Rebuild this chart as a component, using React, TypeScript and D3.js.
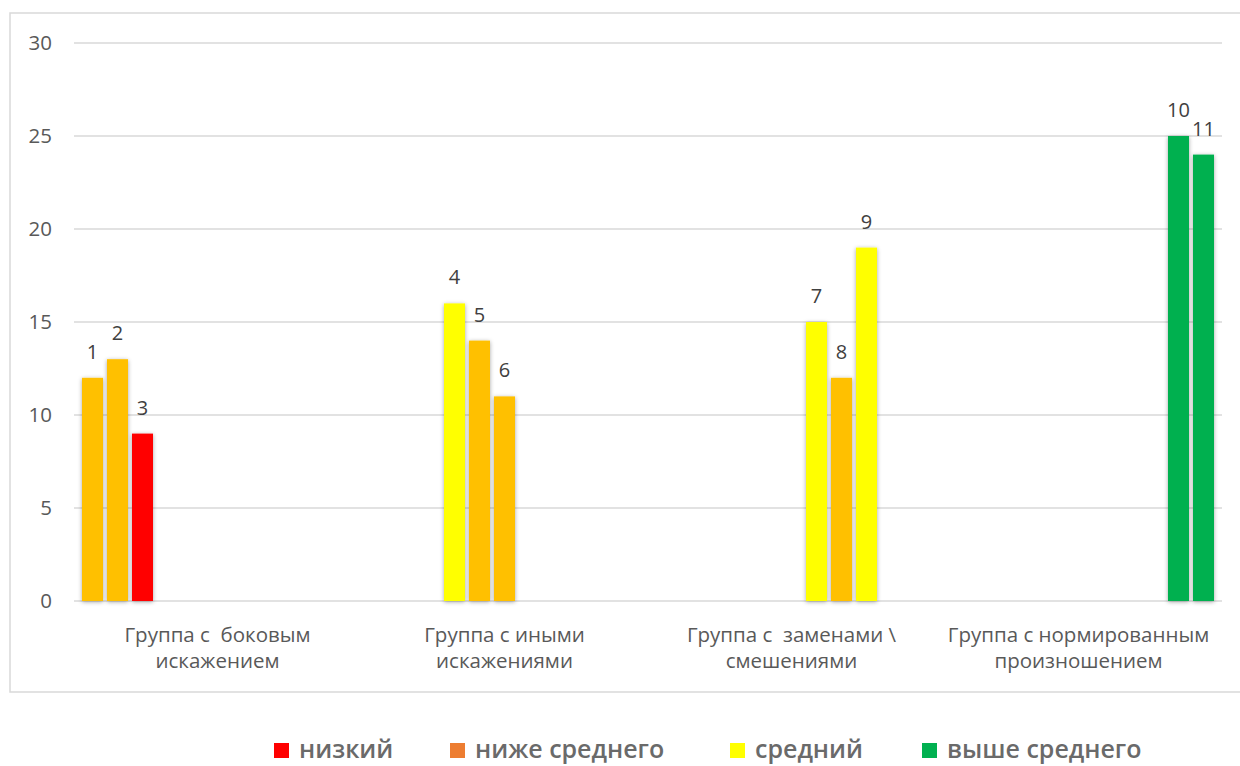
import React from "react";
import * as d3 from "d3";

const categories: string[][] = [
  ["Группа с  боковым", "искажением"],
  ["Группа с иными", "искажениями"],
  ["Группа с  заменами \\", "смешениями"],
  ["Группа с нормированным", "произношением"],
];
const seriesNames = ["1", "2", "3", "4", "5", "6", "7", "8", "9", "10", "11"];
const seriesValues = [12, 13, 9, 16, 14, 11, 15, 12, 19, 25, 24];
const seriesCategory = [0, 0, 0, 1, 1, 1, 2, 2, 2, 3, 3];
const barColors = ["#FFC000", "#FFC000", "#FF0000", "#FFFF00", "#FFC000", "#FFC000", "#FFFF00", "#FFC000", "#FFFF00", "#00B050", "#00B050"];
const legendLabels = ["низкий", "ниже среднего", "средний", "выше среднего"];
const legendColors = ["#FF0000", "#ED7D31", "#FFFF00", "#00B050"];
const legendX = [274, 450, 730, 922];
const yTicks = [0, 5, 10, 15, 20, 25, 30];

export default function App() {
  const W = 1240, H = 766;
  const left = 74, right = 1222, top = 43, bottom = 601;
  const y = d3.scaleLinear().domain([0, 30]).range([bottom, top]);
  const x0 = d3.scaleBand<number>().domain(d3.range(categories.length)).range([left, right]).padding(0);
  const x1 = d3.scaleBand<number>().domain(d3.range(seriesNames.length)).range([0, x0.bandwidth()]).paddingInner(0.16).paddingOuter(0.32);
  const font = "'Open Sans', 'Noto Sans', sans-serif";

  return (
    <svg width={W} height={H} style={{ position: "absolute", left: 0, top: 0, background: "#fff" }}>
      <defs>
        <filter id="sh" x="-30%" y="-10%" width="160%" height="120%">
          <feDropShadow dx="0" dy="1" stdDeviation="2" floodColor="#000" floodOpacity="0.35" />
        </filter>
      </defs>
      <rect x={10} y={13} width={1240} height={679} fill="#fff" stroke="#d9d9d9" strokeWidth={1.5} />
      {yTicks.map((t) => (
        <g key={t}>
          <line x1={left} x2={right} y1={y(t)} y2={y(t)} stroke="#d9d9d9" strokeWidth={1.5} />
          <text x={52} y={y(t)} dy="0.36em" textAnchor="end" fontFamily={font} fontSize={20.5} fill="#595959">{t}</text>
        </g>
      ))}
      {seriesValues.map((v, i) => {
        const bx = x0(seriesCategory[i])! + x1(i)!;
        return (
          <g key={i}>
            <rect x={bx} y={y(v)} width={x1.bandwidth()} height={y(0) - y(v)} fill={barColors[i]} filter="url(#sh)" />
            <text x={bx + x1.bandwidth() / 2} y={y(v) - 19} textAnchor="middle" fontFamily={font} fontSize={20} fill="#404040">{seriesNames[i]}</text>
          </g>
        );
      })}
      {categories.map((lines, c) => (
        <text key={c} x={x0(c)! + x0.bandwidth() / 2} y={642} textAnchor="middle" fontFamily={font} fontSize={20.5} fill="#595959" style={{ whiteSpace: "pre" }}>
          {lines.map((l, k) => (
            <tspan key={k} x={x0(c)! + x0.bandwidth() / 2} dy={k === 0 ? 0 : 26}>{l}</tspan>
          ))}
        </text>
      ))}
      {legendLabels.map((l, i) => (
        <g key={i}>
          <rect x={legendX[i]} y={743} width={15} height={15} fill={legendColors[i]} />
          <text x={legendX[i] + 25} y={758} fontFamily={font} fontWeight={600} fontSize={25} fill="#6a6a6a">{l}</text>
        </g>
      ))}
    </svg>
  );
}
